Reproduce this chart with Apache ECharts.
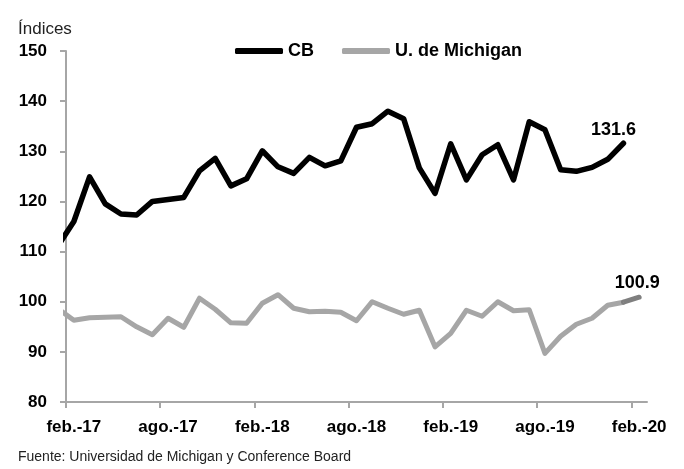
<!DOCTYPE html>
<html>
<head>
<meta charset="utf-8">
<script src="https://cdn.jsdelivr.net/npm/echarts@6/dist/echarts.min.js"></script>
<style>html,body{margin:0;padding:0;background:#fff;}#c{width:684px;height:469px;}</style>
</head>
<body>
<div id="c"></div>
<script>
const months = ['ene.-17','feb.-17','mar.-17','abr.-17','may.-17','jun.-17','jul.-17','ago.-17','sep.-17','oct.-17','nov.-17','dic.-17',
  'ene.-18','feb.-18','mar.-18','abr.-18','may.-18','jun.-18','jul.-18','ago.-18','sep.-18','oct.-18','nov.-18','dic.-18',
  'ene.-19','feb.-19','mar.-19','abr.-19','may.-19','jun.-19','jul.-19','ago.-19','sep.-19','oct.-19','nov.-19','dic.-19',
  'ene.-20','feb.-20'];
const cb = [111.2,116.0,124.9,119.5,117.5,117.3,120.0,120.4,120.8,126.1,128.6,123.1,
  124.5,130.1,126.9,125.6,128.8,127.1,128.1,134.8,135.5,138.0,136.5,126.7,
  121.6,131.5,124.3,129.3,131.3,124.3,135.9,134.3,126.3,126.0,126.8,128.4,
  131.6];
const michigan = [98.6,96.3,96.8,96.9,97.0,95.0,93.4,96.7,94.9,100.7,98.5,95.8,
  95.7,99.7,101.4,98.7,98.0,98.1,97.9,96.2,100.0,98.7,97.5,98.3,
  91.0,93.7,98.3,97.1,100.0,98.2,98.4,89.7,93.1,95.5,96.7,99.3,
  99.9,100.9];
const tickLabels = ['feb.-17','ago.-17','feb.-18','ago.-18','feb.-19','ago.-19','feb.-20'];
const seriesNames = ['CB','U. de Michigan'];

const FONT = "'Liberation Sans',Arial,sans-serif";
// x position: month index relative to the first labelled month, centred in its month band
const xOf = i => i - 1 + 0.5;
const labelMonthIdx = tickLabels.map(t => months.indexOf(t));
const valueLabel = { fontFamily: FONT, fontWeight: 'bold', fontSize: 18, color: '#000' };

function build(vals, startIdx, labelCfg) {
  return vals.map((v, k) => {
    const i = startIdx + k;
    const item = { value: [xOf(i), v] };
    if (labelCfg && k === vals.length - 1) item.label = Object.assign({ show: true }, valueLabel, labelCfg);
    return item;
  });
}

const chart = echarts.init(document.getElementById('c'), null, { renderer: 'canvas' });
const michLen = michigan.length;
const lineCommon = { type: 'line', showSymbol: true, symbol: 'circle', symbolSize: 1, label: { show: false } };
chart.setOption({
  animation: false,
  backgroundColor: '#fff',
  textStyle: { fontFamily: FONT },
  grid: { left: 66, right: 37, top: 51, bottom: 67 },
  legend: {
    data: seriesNames,
    left: 230, top: 37,
    itemWidth: 48, itemHeight: 6, itemGap: 28,
    icon: 'roundRect',
    textStyle: { fontFamily: FONT, fontWeight: 'bold', fontSize: 18, color: '#000' }
  },
  xAxis: {
    type: 'value', min: 0, max: 37,
    splitLine: { show: false },
    axisLine: { lineStyle: { color: '#a6a6a6', width: 2 } },
    axisTick: { show: true, length: 6, lineStyle: { color: '#a6a6a6', width: 2 },
      customValues: labelMonthIdx.map(i => i - 1) },
    axisLabel: {
      customValues: labelMonthIdx.map(i => xOf(i)),
      formatter: v => tickLabels[Math.round((v - 0.5) / 6)] || '',
      fontFamily: FONT, fontWeight: 'bold', fontSize: 17, color: '#000', margin: 17
    }
  },
  yAxis: {
    type: 'value', min: 80, max: 150, interval: 10,
    splitLine: { show: false },
    axisLine: { show: true, lineStyle: { color: '#a6a6a6', width: 2 } },
    axisTick: { show: true, length: 6, lineStyle: { color: '#a6a6a6', width: 2 } },
    axisLabel: { fontFamily: FONT, fontWeight: 'bold', fontSize: 17, color: '#000', margin: 19 }
  },
  graphic: [
    { type: 'text', left: 18, top: 21, style: { text: 'Índices', fontFamily: FONT, fontSize: 17, fill: '#222' } },
    { type: 'text', left: 18, top: 450, style: { text: 'Fuente: Universidad de Michigan y Conference Board', fontFamily: FONT, fontSize: 14, fill: '#222' } }
  ],
  series: [
    Object.assign({}, lineCommon, {
      name: seriesNames[0],
      itemStyle: { color: '#000' },
      lineStyle: { color: '#000', width: 5.5, cap: 'round', join: 'round' },
      data: build(cb, 0, { position: 'top', distance: 4, offset: [-10, 0] }),
      z: 3
    }),
    Object.assign({}, lineCommon, {
      name: seriesNames[1],
      itemStyle: { color: '#a6a6a6' },
      lineStyle: { color: '#a6a6a6', width: 5, cap: 'round', join: 'round' },
      data: build(michigan.slice(0, michLen - 1), 0),
      z: 2
    }),
    Object.assign({}, lineCommon, {
      name: 'prelim',
      itemStyle: { color: '#7f7f7f' },
      lineStyle: { color: '#7f7f7f', width: 5, cap: 'round', join: 'round' },
      data: build(michigan.slice(michLen - 2), michLen - 2, { position: 'top', distance: 5, offset: [-2, 0] }),
      z: 2
    })
  ]
});
</script>
</body>
</html>
